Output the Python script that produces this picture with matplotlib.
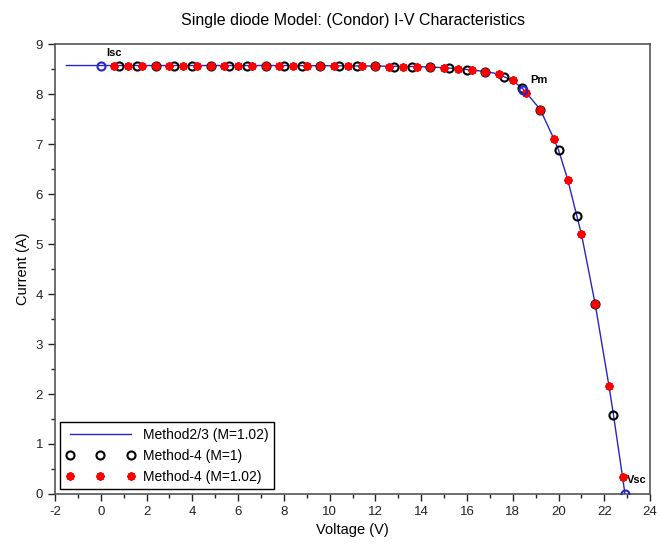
import matplotlib
matplotlib.use('Agg')
import matplotlib.pyplot as plt
from matplotlib.ticker import MultipleLocator
import numpy as np

plt.rcParams['font.family'] = ['Liberation Sans', 'DejaVu Sans']
plt.rcParams['axes.unicode_minus'] = False

# Method2/3 (M=1.02) curve
v_line = [-1.5, 0.0, 4.0, 8.0, 12.0, 13.6, 14.4, 15.2, 16.0, 16.8, 17.4, 17.6, 18.0,
          18.45, 18.6, 19.2, 19.8, 20.0, 20.4, 20.8, 21.0, 21.6, 22.2, 22.4, 22.8, 22.9]
i_line = [8.57, 8.57, 8.57, 8.57, 8.56, 8.55, 8.54, 8.52, 8.49, 8.45, 8.40, 8.35, 8.27,
          8.10, 8.02, 7.69, 7.10, 6.88, 6.29, 5.56, 5.20, 3.80, 2.17, 1.58, 0.33, 0.0]

# Method-4 (M=1)
v_m1 = [0.8, 1.6, 2.4, 3.2, 4.0, 4.8, 5.6, 6.4, 7.2, 8.0, 8.8, 9.6, 10.4, 11.2,
        12.0, 12.8, 13.6, 14.4, 15.2, 16.0, 16.8, 17.6, 18.4, 19.2, 20.0, 20.8, 21.6, 22.4]
i_m1 = [8.57, 8.57, 8.57, 8.57, 8.57, 8.57, 8.57, 8.57, 8.57, 8.57, 8.57, 8.56, 8.56, 8.56,
        8.56, 8.55, 8.55, 8.54, 8.52, 8.49, 8.45, 8.35, 8.12, 7.69, 6.88, 5.56, 3.80, 1.58]

# Method-4 (M=1.02)
v_m102 = [0.6, 1.2, 1.8, 2.4, 3.0, 3.6, 4.2, 4.8, 5.4, 6.0, 6.6, 7.2, 7.8, 8.4, 9.0, 9.6,
          10.2, 10.8, 11.4, 12.0, 12.6, 13.2, 13.8, 14.4, 15.0, 15.6, 16.2, 16.8, 17.4,
          18.0, 18.6, 19.2, 19.8, 20.4, 21.0, 21.6, 22.2, 22.8]
i_m102 = [8.57, 8.57, 8.57, 8.57, 8.57, 8.57, 8.57, 8.57, 8.57, 8.57, 8.57, 8.57, 8.57,
          8.57, 8.57, 8.56, 8.56, 8.56, 8.56, 8.56, 8.55, 8.55, 8.55, 8.54, 8.53, 8.51,
          8.49, 8.45, 8.40, 8.28, 8.02, 7.69, 7.10, 6.29, 5.20, 3.80, 2.17, 0.33]

# key points: Isc, Pm, Vsc
v_key = [0.0, 18.45, 22.9]
i_key = [8.57, 8.09, 0.0]
key_names = ['Isc', 'Pm', 'Vsc']

fig = plt.figure(figsize=(6.6, 5.53), dpi=100)
ax = fig.add_axes([0.0833, 0.1067, 0.9017, 0.8137])

line_col = '#2626c8'
ax.plot(v_line, i_line, '-', color=line_col, lw=1.0, label='Method2/3 (M=1.02)', zorder=2)
ax.plot(v_m1, i_m1, 'o', ls='none', mfc='none', mec='black', mew=1.5, ms=5.8,
        label='Method-4 (M=1)', zorder=3)
ax.plot(v_m102, i_m102, marker=(8, 2, 0), ls='none', color='red', mec='red', mew=1.5,
        ms=6, label='Method-4 (M=1.02)', zorder=4)
ax.plot(v_key, i_key, 'o', ls='none', mfc='none', mec=line_col, mew=1.5, ms=5.8, zorder=5)

ax.text(0.25, 8.72, key_names[0], fontsize=8, fontweight='bold', va='bottom')
ax.text(18.75, 8.18, key_names[1], fontsize=8, fontweight='bold', va='bottom')
ax.text(23.0, 0.18, key_names[2], fontsize=8, fontweight='bold', va='bottom')

ax.set_xlim(-2, 24)
ax.set_ylim(0, 9)
ax.xaxis.set_major_locator(MultipleLocator(2))
ax.xaxis.set_minor_locator(MultipleLocator(1))
ax.yaxis.set_major_locator(MultipleLocator(1))
ax.yaxis.set_minor_locator(MultipleLocator(0.5))
ax.tick_params(which='major', direction='out', length=5, width=1, labelsize=9.5,
               colors='#222222')
ax.tick_params(which='minor', direction='out', length=3, width=1, colors='#222222')
for s in ax.spines.values():
    s.set_color('#555555')
    s.set_linewidth(1.2)

ax.set_title('Single diode Model: (Condor) I-V Characteristics', fontsize=11.5, pad=14)
ax.set_xlabel('Voltage (V)', fontsize=10.5)
ax.set_ylabel('Current (A)', fontsize=10.5)

leg = ax.legend(loc='lower left', numpoints=3, handlelength=5, fontsize=10,
                fancybox=False, edgecolor='black', framealpha=1, borderaxespad=0.35,
                handletextpad=0.6, labelspacing=0.5)
leg.get_frame().set_linewidth(1.0)

fig.savefig('out.png', dpi=100)
